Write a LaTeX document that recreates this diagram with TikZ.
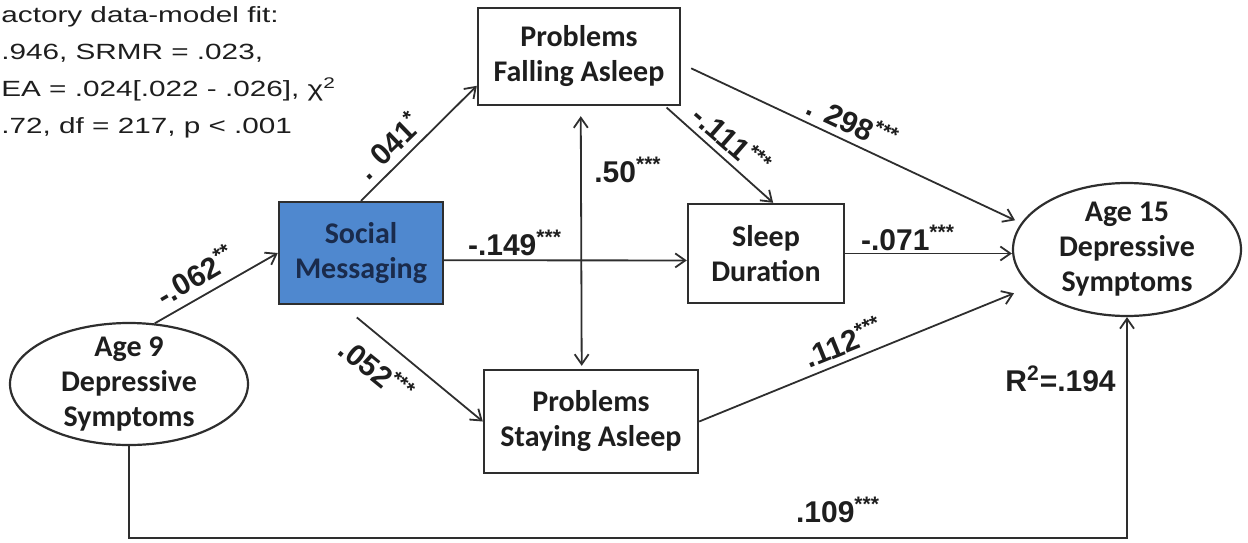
\documentclass[tikz,border=0pt]{standalone}
\usepackage{fontspec}
\usepackage{graphicx}
\setmainfont{Liberation Sans}
\newfontfamily\boxfont{Carlito}
\usetikzlibrary{arrows.meta,shapes.geometric,calc}
\definecolor{smfill}{HTML}{4F88CF}
\definecolor{smtext}{HTML}{1A2B4C}
\definecolor{ln}{HTML}{2E2E2E}
\definecolor{txt}{HTML}{1E1E1E}
\begin{document}
\begin{tikzpicture}[x=0.5pt,y=-0.5pt,
  box/.style={draw=ln, line width=1.2pt, rectangle, inner sep=0pt, align=center,
    font=\boxfont\fontsize{15}{17.5}\selectfont\bfseries, text=txt},
  latent/.style={draw=ln, line width=1.1pt, ellipse, inner sep=-20pt, align=center,
    font=\boxfont\fontsize{15}{17.5}\selectfont\bfseries, text=txt},
  arr/.style={draw=ln, line width=0.9pt, -{Straight Barb[length=5pt,width=7pt]}},
  dblarr/.style={draw=ln, line width=0.9pt, {Straight Barb[length=5pt,width=7pt]}-{Straight Barb[length=5pt,width=7pt]}},
  lab/.style={font=\fontsize{15}{18}\selectfont\bfseries, inner sep=0pt, text=txt},
  fittext/.style={anchor=north west, inner sep=0pt, font=\fontsize{11}{18.5}\selectfont, text=txt}
]
\useasboundingbox (0,0) rectangle (1248,542);

% fit statistics
\node[fittext] (fit) at (1,-4) {\scalebox{1.35}[1]{\begin{tabular}{@{}l@{}}actory data-model fit:\\ .946, SRMR = .023,\\ EA = .024[.022 - .026], χ\textsuperscript{2}\\ .72, df = 217, p < .001\end{tabular}}};

% nodes
\node[box, minimum width=101pt, minimum height=48.5pt] (pfa) at (579,56.5) {Problems\\Falling Asleep};
\node[box, fill=smfill, text=smtext, draw=ln, minimum width=82pt, minimum height=51pt] (sm) at (361,253) {Social\\Messaging};
\node[box, minimum width=78pt, minimum height=49.5pt] (sd) at (766,253.5) {Sleep\\Duration};
\node[box, minimum width=107pt, minimum height=51.5pt] (psa) at (591,421.5) {Problems\\Staying Asleep};
\node[latent, minimum width=114pt, minimum height=66.5pt] (age15) at (1127,249.5) {Age 15\\Depressive\\Symptoms};
\node[latent, minimum width=119pt, minimum height=61pt] (age9) at (129,384) {Age 9\\Depressive\\Symptoms};

% connectors
\draw[arr] (age9.67) -- (sm.west);
\draw[arr] (sm.north) -- (pfa.196);
\draw[arr] (sm.-5.6) -- (sd.185.5);
\draw[arr, shorten <=9.6pt] (sm.250.6) -- (psa.west);
\draw[arr, shorten <=1pt] (pfa.-30.3) -- (sd.82);
\draw[arr, shorten <=5.5pt, shorten >=3.3pt] (pfa.-4.8) -- (age15.166);
\draw[arr] (sd.east) -- (sd.east -| age15.west);
\draw[arr, shorten >=9pt] (psa.east) -- (age15.201);
\draw[arr] (age9.south) -- ++(0,92) -| (age15.south);
\draw[dblarr, shorten <=5pt, shorten >=1.5pt] (pfa.-88) -- (psa.100);

% labels
\node[lab, rotate=44] (l041) at (388,145) {. 041\textsuperscript{*}};
\node[lab, rotate=30] (l062) at (195,275) {-.062\textsuperscript{**}};
\node[lab, rotate=-39] (l052) at (377,370) {.052\textsuperscript{***}};
\node[lab] (l149) at (515,243) {-.149\textsuperscript{***}};
\node[lab] (l50) at (628,170) {.50\textsuperscript{***}};
\node[lab, rotate=-41] (l111) at (732,140) {-.111\textsuperscript{***}};
\node[lab, rotate=-25] (l298) at (853,122) {. 298\textsuperscript{***}};
\node[lab] (l071) at (908,238) {-.071\textsuperscript{***}};
\node[lab, rotate=22] (l112) at (843,342) {.112\textsuperscript{***}};
\node[lab, anchor=west] (r2) at (1005,379) {R\textsuperscript{2}=.194};
\node[lab] (l109) at (838,510) {.109\textsuperscript{***}};
\end{tikzpicture}
\end{document}
